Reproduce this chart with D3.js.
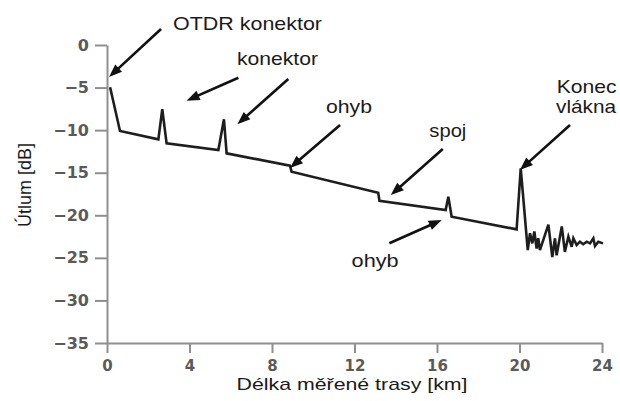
<!DOCTYPE html>
<html><head><meta charset="utf-8">
<script src="https://cdn.jsdelivr.net/npm/d3@7"></script>
<style>body{margin:0;background:#fff}svg{display:block}</style>
</head><body>
<svg id="c" width="620" height="401"></svg>
<script>
// distance along the fibre [km]
const traceKm = [0.15,0.63,2.49,2.68,2.89,5.40,5.67,5.80,8.87,8.95,13.15,13.21,16.42,16.55,16.71,19.86,20.06,20.40,
  20.51,20.62,20.72,20.83,20.91,20.99,21.40,21.59,21.72,21.80,22.05,22.20,22.37,22.53,22.61,22.77,22.93,23.09,23.26,23.42,23.58,23.66,23.82,24.05];
// attenuation [dB]
const traceDb = [-4.97,-10.1,-11.08,-7.55,-11.55,-12.33,-8.73,-12.72,-14.18,-14.88,-17.35,-18.29,-19.38,-17.82,-20.17,-21.65,-14.48,-24.08,
  -22.1,-23.3,-21.9,-23.9,-22.7,-24.1,-21.1,-24.9,-22.7,-24.7,-21.3,-24.3,-22.5,-23.7,-22.7,-23.5,-23.1,-23.4,-23.1,-23.3,-22.7,-23.6,-23.1,-23.3];
const xTicks = [0,4,8,12,16,20,24];
const yTicks = [0,-5,-10,-15,-20,-25,-30,-35];
// annotation labels: text, km, dB (left/baseline anchor)
const labelText = ["OTDR konektor","konektor","ohyb","spoj","Konec","vlákna","ohyb"];
const labelKm   = [3.20, 6.30, 10.62, 15.63, 21.80, 21.77, 11.86];
const labelDb   = [1.76, -2.35, -8.02, -10.77, -5.67, -7.93, -26.04];
const labelLen  = [149, 81, 46, 37, 60, 60, 47];
// arrows: tail (km,dB) -> tip (km,dB)
const arrowFromKm = [2.62, 6.37, 8.79, 11.30, 16.28, 22.45, 13.69];
const arrowFromDb = [1.88, -3.84, -3.99, -9.40, -12.22, -9.40, -23.29];
const arrowToKm   = [0.10, 3.86, 6.32, 8.87, 13.76, 20.02, 16.23];
const arrowToDb   = [-3.76, -6.54, -9.31, -14.45, -17.62, -14.68, -20.55];

const svg = d3.select("#c");
const x = d3.scaleLinear().domain([0,24]).range([107,602]);
const y = d3.scaleLinear().domain([0,-35]).range([45,343]);
const axisColor = "#8f8f8f";

const fmt = d => d < 0 ? "\u2212" + Math.abs(d) : String(d);

const gx = svg.append("g").attr("transform","translate(0,343)")
  .call(d3.axisBottom(x).tickValues(xTicks).tickSize(10).tickPadding(7).tickFormat(fmt).tickSizeOuter(0));
const gy = svg.append("g").attr("transform","translate(107,0)")
  .call(d3.axisLeft(y).tickValues(yTicks).tickSize(12).tickPadding(6).tickFormat(fmt).tickSizeOuter(0));
[gx,gy].forEach(g=>{
  g.select(".domain").attr("stroke",axisColor).attr("stroke-width",2);
  g.selectAll(".tick line").attr("stroke",axisColor).attr("stroke-width",2);
  g.selectAll(".tick text").attr("fill","#5a5a5a").style("font-family","'DejaVu Sans'")
   .style("font-weight","bold").style("font-size","15px");
});
gy.selectAll(".tick text").style("font-size","16px");

// trace
const pts = traceKm.map((k,i)=>[k,traceDb[i]]);
svg.append("path").datum(pts)
  .attr("d", d3.line().x(d=>x(d[0])).y(d=>y(d[1])))
  .attr("fill","none").attr("stroke","#1e1e1e").attr("stroke-width",2.6)
  .attr("stroke-linejoin","miter");

arrowFromKm.forEach((k,i)=>{
  const x1=x(k), y1=y(arrowFromDb[i]), x2=x(arrowToKm[i]), y2=y(arrowToDb[i]);
  const len=Math.hypot(x2-x1,y2-y1), ux=(x2-x1)/len, uy=(y2-y1)/len;
  svg.append("line").attr("x1",x1).attr("y1",y1).attr("x2",x2-ux*8).attr("y2",y2-uy*8)
    .attr("stroke","#111").attr("stroke-width",2.6);
  svg.append("path")
    .attr("d",`M${x2},${y2} L${x2-ux*13-uy*5},${y2-uy*13+ux*5} L${x2-ux*13+uy*5},${y2-uy*13-ux*5} Z`)
    .attr("fill","#111");
});

// labels
labelText.forEach((t,i)=>{
  svg.append("text").attr("x",x(labelKm[i])).attr("y",y(labelDb[i]))
    .attr("textLength",labelLen[i]).attr("lengthAdjust","spacingAndGlyphs")
    .style("font-family","'Liberation Sans', Arial, sans-serif").style("font-size","19px")
    .attr("fill","#1a1a1a").text(t);
});

// axis titles
svg.append("text").attr("x",352).attr("y",390).attr("text-anchor","middle")
  .attr("textLength",231).attr("lengthAdjust","spacingAndGlyphs")
  .style("font-family","'Liberation Sans', Arial, sans-serif").style("font-size","17px")
  .attr("fill","#1a1a1a").text("Délka měřené trasy [km]");
svg.append("text").attr("transform","translate(31,185) rotate(-90)").attr("text-anchor","middle")
  .attr("textLength",84).attr("lengthAdjust","spacingAndGlyphs")
  .style("font-family","'Liberation Sans', Arial, sans-serif").style("font-size","18px")
  .attr("fill","#1a1a1a").text("Útlum [dB]");
</script>
</body></html>
